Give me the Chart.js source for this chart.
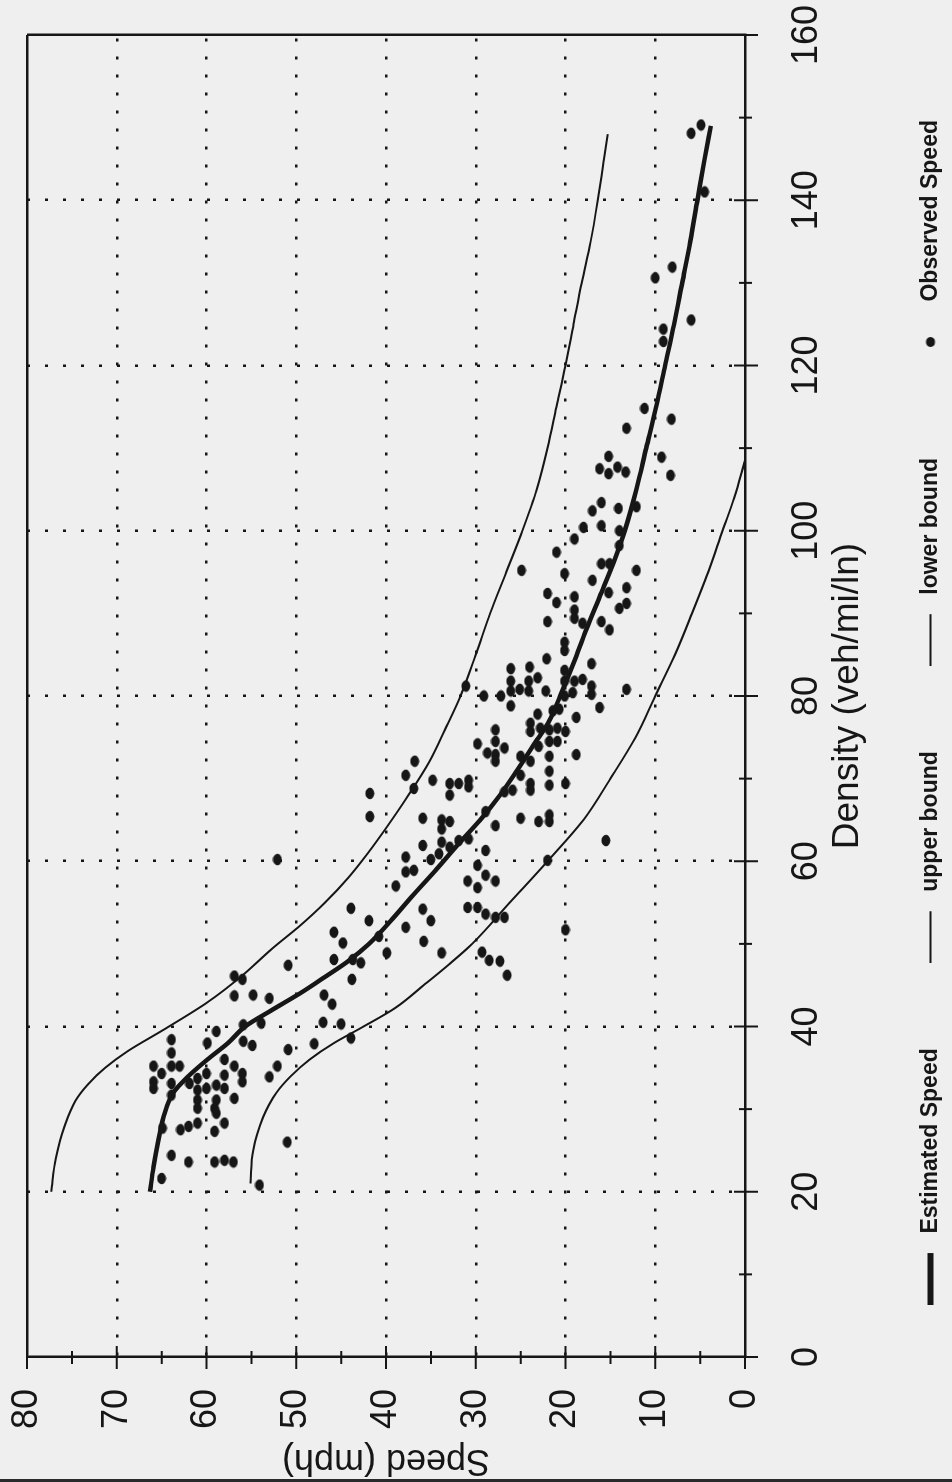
<!DOCTYPE html>
<html>
<head>
<meta charset="utf-8">
<script src="https://cdn.jsdelivr.net/npm/chart.js@4.4.1/dist/chart.umd.min.js"></script>
<style>
  html, body { margin: 0; padding: 0; background: #efefef; }
  #page { position: relative; width: 952px; height: 1482px; overflow: hidden; background: #efefef; }
  /* the chart is drawn lying on its side, then turned a quarter turn */
  #turn { position: absolute; left: 0; top: 0; width: 1482px; height: 952px;
          transform-origin: 0 0; transform: translate(0, 1482px) rotate(-90deg); }
  #edge { position: absolute; left: 0; top: 1479px; width: 952px; height: 3px; background: #2a2a2a; }
</style>
</head>
<body>
<div id="page">
  <div id="turn"><canvas id="speedChart" width="1482" height="952"></canvas></div>
  <div id="edge"></div>
</div>
<script>
// estimated speed curve (density veh/mi/ln -> speed mph)
const estDensity = [20, 23, 26, 29, 32, 34, 36, 38, 40, 42, 44, 46, 48, 50, 53, 56, 59, 62, 65, 68, 71, 74, 77, 80, 84, 88, 92, 96, 100, 105, 110, 115, 120, 125, 130, 135, 140, 145, 149];
const estSpeed = [66.3, 65.9, 65.4, 64.8, 63.7, 62, 59.9, 57.6, 55.7, 52.7, 49.6, 46.8, 44.1, 41.9, 39.3, 36.9, 34.4, 32, 29.5, 27.3, 25.4, 23.6, 21.8, 20.6, 19.1, 17.7, 16.2, 14.7, 13.4, 12.1, 11, 9.9, 8.9, 7.9, 7, 6.1, 5.3, 4.5, 3.8];

const upperDensity = [20, 24, 28, 31, 33, 35, 37, 39.6, 43, 46, 49.5, 52, 55, 58, 61, 64, 68, 72, 76, 80, 85, 90, 95, 100, 105, 110, 115, 120, 125, 130, 135, 140, 145, 148];
const upperSpeed = [77.3, 76.8, 75.8, 74.6, 73.2, 71.3, 68.8, 64.8, 59.8, 56.2, 52.6, 49.8, 46.8, 44.2, 42, 40, 37.5, 35.2, 33.4, 31.7, 30, 28.4, 26.6, 24.8, 23.2, 22, 21, 20, 19.1, 18.2, 17.2, 16.4, 15.7, 15.3];

const lowerDensity = [21, 25, 29, 32, 34, 36, 38, 40, 42.3, 45, 47.5, 50, 55, 60, 65, 70, 75, 80, 85, 90, 95, 100, 104, 108.5];
const lowerSpeed = [55.1, 54.8, 53.7, 52.2, 50.6, 48.5, 45.8, 42.5, 38.9, 35.8, 33, 30.4, 26.2, 22, 18, 15, 12.2, 10, 7.8, 5.9, 4.1, 2.5, 1.2, 0];

// observed speed points
const obsDensity = [
  51.4, 50.1, 50.9, 52, 50.3, 48.9, 48.9, 47.4, 48.1, 48.1, 47.7, 45.7, 46.1, 45.7, 43.7, 43.8, 43.4, 43.8, 42.7, 40.5,
  40.3, 38.6, 37.9, 37.2, 40.2, 40.4, 38.2, 37.7, 39.4, 38, 38.4, 36.8, 35.2, 34.3, 35.2, 35.2, 33.3, 32.5, 33.1, 33.1,
  33.7, 34.3, 36, 35.2, 34.3, 33.3, 34.1, 32.9, 32.5, 32.5, 32.3, 31.1, 31.1, 31.3, 31.7, 30.1, 30.1, 29.5, 28.3, 27.3,
  28.3, 27.9, 27.5, 27.7, 33.9, 35.2, 26, 24.4, 23.6, 23.6, 23.8, 23.6, 21.6, 20.8,
  60.2, 68.2, 65.4, 72.1, 70.4, 68.8, 69.8, 69.4, 69.4, 69.8, 69, 68, 65.2, 65, 64.8, 63.9, 61.9, 62.3, 61.7, 62.5,
  62.7, 60.9, 60.2, 60.5, 58.9, 58.7, 57, 54.3, 52.8, 54.2, 52.8, 74.2, 75.9, 74.5, 72.9, 73.1, 73.7, 72.1, 78.4, 77.4,
  76.7, 75.7, 76.1, 75.9, 76.1, 75.7, 73.9, 74.5, 74.5, 72.7, 72.1, 72.7, 72.9, 70.4, 69.4, 68.6, 70.9, 69.2, 69.4, 68.6,
  68.4, 66, 64.3, 65.2, 64.8, 65.6, 64.8, 61.3, 59.5, 57.6, 58.3, 57.6, 56.8, 54.4, 54.4, 53.6, 53.2, 53.2, 60.1, 51.7,
  62.5, 49, 48, 47.9, 46.2,
  103.4, 102.4, 102.7, 102.9, 100.4, 100.6, 99, 100, 97.4, 98.2, 95.2, 94.8, 96, 96, 95.2, 94, 93.1, 92.5, 92.4, 91.3,
  92, 90.4, 89.4, 88.8, 89, 88, 90.6, 91.2, 89, 86.5, 85.5, 84.5, 83.1, 83.9, 83.3, 83.5, 82.2, 81.8, 80.8, 81.8,
  80.6, 80.6, 80, 80, 81.2, 80.6, 81.8, 81.8, 82, 81.2, 80.2, 80.4, 80.8, 78.6, 78.8, 77.8, 78.2, 80,
  131.9, 130.6, 125.5, 124.4, 122.9, 114.8, 113.5, 112.4, 108.9, 106.7, 109, 107.5, 106.9, 107.7, 107.1,
  148.1, 149.1, 141
];
const obsSpeed = [
  45.8, 44.8, 40.8, 37.8, 35.8, 33.8, 39.9, 50.9, 45.8, 43.7, 42.8, 43.8, 56.9, 56, 56.9, 54.8, 53, 46.9, 46, 47,
  45, 43.9, 48, 50.9, 55.9, 53.9, 55.9, 54.9, 58.9, 59.9, 63.9, 63.9, 65.9, 65, 63.9, 63, 65.9, 65.9, 63.9, 61.9,
  61, 60, 58, 56.9, 56, 56, 58, 58.9, 58, 60, 61, 61, 58.9, 56.9, 63.9, 59.1, 61, 58.9, 58, 59.1,
  61, 62, 62.9, 64.9, 53, 52.1, 51, 63.9, 62, 59.1, 58, 57, 65, 54.1,
  52.1, 41.8, 41.8, 36.8, 37.8, 36.9, 34.8, 32.9, 31.9, 30.8, 30.8, 32.9, 35.9, 33.8, 32.9, 33.8, 35.9, 33.8, 32.9, 31.9,
  30.8, 34.1, 35, 37.8, 36.9, 37.8, 38.9, 43.9, 41.9, 35.9, 35, 29.8, 27.8, 27.8, 27.8, 28.7, 26.8, 27.8, 20.7, 18.8,
  23.9, 23.9, 22.8, 21.8, 20.9, 20, 23, 21.8, 20.9, 25, 23.9, 21.8, 18.8, 25, 23.9, 23.9, 21.8, 21.8, 20, 25.9,
  26.8, 28.9, 27.8, 25, 23, 21.8, 21.8, 28.9, 29.8, 30.9, 28.9, 27.8, 29.8, 30.9, 29.8, 28.9, 27.8, 26.8, 22, 20,
  15.5, 29.3, 28.5, 27.3, 26.5,
  16, 17, 14.1, 12.1, 18, 16, 19, 14, 21, 14, 24.9, 20.1, 16, 15.1, 12.1, 17, 13.2, 15.2, 22, 21,
  19, 19, 19, 18.1, 16, 15.1, 14, 13.2, 22, 20.1, 20.1, 22.1, 20.1, 17.1, 26.1, 24, 23.1, 26.1, 25.1, 24.1,
  24.1, 26.1, 27.2, 29.1, 31.1, 22.2, 20.1, 19, 18.1, 17.1, 17.1, 19.2, 13.2, 16.2, 26.1, 23.1, 21.4, 20.1,
  8.1, 10, 6, 9.1, 9.1, 11.2, 8.2, 13.2, 9.3, 8.3, 15.2, 16.2, 15.2, 14.2, 13.3,
  6, 4.9, 4.5
];

// axis ticks
const densityMajor = 20;
const speedMajor = 10;

const ink = "#161616";
const fontFamily = '"Liberation Sans", Arial, Helvetica, sans-serif';

function toPoints(xs, ys) {
  return xs.map((x, i) => ({ x: x, y: ys[i] }));
}

// little pictures for the legend keys
function makeSwatch(kind) {
  const c = document.createElement("canvas");
  c.width = 60;
  c.height = 24;
  const g = c.getContext("2d");
  g.fillStyle = ink;
  if (kind === "dot") {
    g.beginPath();
    g.ellipse(31, 12, 5, 4.5, 0, 0, Math.PI * 2);
    g.fill();
  } else {
    const w = kind === "thick" ? 6 : 2;
    g.fillRect(0, 12 - w / 2, 52, w);
  }
  return c;
}
const swatches = [makeSwatch("thick"), makeSwatch("thin"), makeSwatch("thin"), makeSwatch("dot")];

// the printed dots are a little oval, longer along the density axis
function makeDot() {
  const c = document.createElement("canvas");
  c.width = 13;
  c.height = 10;
  const g = c.getContext("2d");
  g.fillStyle = ink;
  g.beginPath();
  g.ellipse(6.5, 5, 5.8, 4.4, 0, 0, Math.PI * 2);
  g.fill();
  return c;
}
const dotStyle = makeDot();

// tick marks that cross the axis lines, like the printed plot
const crossTicks = {
  id: "crossTicks",
  afterDraw(chart) {
    const { ctx, chartArea } = chart;
    const xs = chart.scales.x;
    const ys = chart.scales.y;
    ctx.save();
    ctx.strokeStyle = ink;
    ctx.lineWidth = 2;
    ctx.beginPath();
    xs.ticks.forEach(t => {
      const px = xs.getPixelForValue(t.value);
      const major = t.value % densityMajor === 0;
      ctx.moveTo(px, chartArea.bottom - (major ? 11 : 6));
      ctx.lineTo(px, chartArea.bottom + (major ? 13 : 7));
    });
    ys.ticks.forEach(t => {
      const py = ys.getPixelForValue(t.value);
      const major = t.value % speedMajor === 0;
      ctx.moveTo(chartArea.left - (major ? 12 : 7), py);
      ctx.lineTo(chartArea.left + (major ? 11 : 6), py);
    });
    ctx.stroke();
    ctx.restore();
  }
};

const ctx = document.getElementById("speedChart").getContext("2d");

new Chart(ctx, {
  type: "scatter",
  data: {
    datasets: [
      {
        type: "line",
        label: "Estimated Speed",
        data: toPoints(estDensity, estSpeed),
        borderColor: ink,
        borderWidth: 4.5,
        pointRadius: 0,
        fill: false,
        cubicInterpolationMode: "monotone"
      },
      {
        type: "line",
        label: "upper bound",
        data: toPoints(upperDensity, upperSpeed),
        borderColor: ink,
        borderWidth: 2,
        pointRadius: 0,
        fill: false,
        cubicInterpolationMode: "monotone"
      },
      {
        type: "line",
        label: "lower bound",
        data: toPoints(lowerDensity, lowerSpeed),
        borderColor: ink,
        borderWidth: 2,
        pointRadius: 0,
        fill: false,
        cubicInterpolationMode: "monotone"
      },
      {
        label: "Observed Speed",
        data: toPoints(obsDensity, obsSpeed),
        pointStyle: dotStyle,
        backgroundColor: ink,
        borderWidth: 0,
        pointRadius: 5,
        pointHoverRadius: 5
      }
    ]
  },
  options: {
    responsive: false,
    animation: false,
    events: [],
    layout: {
      padding: { left: 0, right: 35, top: 27, bottom: 0 }
    },
    plugins: {
      tooltip: { enabled: false },
      legend: {
        position: "bottom",
        align: "end",
        labels: {
          usePointStyle: true,
          pointStyleWidth: 60,
          padding: 85,
          color: ink,
          font: { family: fontFamily, size: 23, weight: "bold" },
          generateLabels: chart => chart.data.datasets.map((ds, i) => ({
            text: ds.label,
            pointStyle: swatches[i],
            datasetIndex: i,
            hidden: false,
            lineWidth: 0,
            fillStyle: "transparent",
            strokeStyle: "transparent",
            fontColor: ink
          }))
        }
      }
    },
    scales: {
      x: {
        type: "linear",
        min: 0,
        max: 160,
        afterFit: scale => {
          scale.height = 89;
          scale.paddingLeft = 0;
          scale.paddingRight = 0;
        },
        ticks: {
          stepSize: 10,
          autoSkip: false,
          maxRotation: 0,
          padding: 28,
          color: ink,
          font: { family: fontFamily, size: 36 },
          callback: v => (v % densityMajor === 0 ? v : "")
        },
        grid: {
          drawTicks: true,
          tickLength: 12,
          tickColor: "transparent",
          color: c => {
            const v = c.tick ? c.tick.value : 0;
            if (v === 160) return ink;
            return v > 0 && v % densityMajor === 0 ? ink : "transparent";
          },
          lineWidth: 2.5
        },
        border: {
          display: true,
          color: ink,
          width: 2.5,
          dash: c => (c.tick && c.tick.value === 160 ? [] : [3, 15])
        },
        title: {
          display: true,
          text: "Density (veh/mi/ln)",
          color: ink,
          font: { family: fontFamily, size: 37 },
          padding: { top: 0, bottom: -36 }
        }
      },
      y: {
        type: "linear",
        min: 0,
        max: 80,
        afterFit: scale => {
          scale.width = 125;
          scale.paddingTop = 0;
          scale.paddingBottom = 0;
        },
        ticks: {
          stepSize: 5,
          autoSkip: false,
          padding: 20,
          color: ink,
          font: { family: fontFamily, size: 36 },
          callback: v => (v % speedMajor === 0 ? v : "")
        },
        grid: {
          drawTicks: true,
          tickLength: 12,
          tickColor: "transparent",
          color: c => {
            const v = c.tick ? c.tick.value : 0;
            if (v === 80) return ink;
            return v > 0 && v % speedMajor === 0 ? ink : "transparent";
          },
          lineWidth: 2.5
        },
        border: {
          display: true,
          color: ink,
          width: 2.5,
          dash: c => (c.tick && c.tick.value === 80 ? [] : [3, 15])
        },
        title: {
          display: true,
          text: "Speed (mph)",
          color: ink,
          font: { family: fontFamily, size: 36 },
          padding: { top: 0, bottom: 0 }
        }
      }
    }
  },
  plugins: [crossTicks]
});
</script>
</body>
</html>
